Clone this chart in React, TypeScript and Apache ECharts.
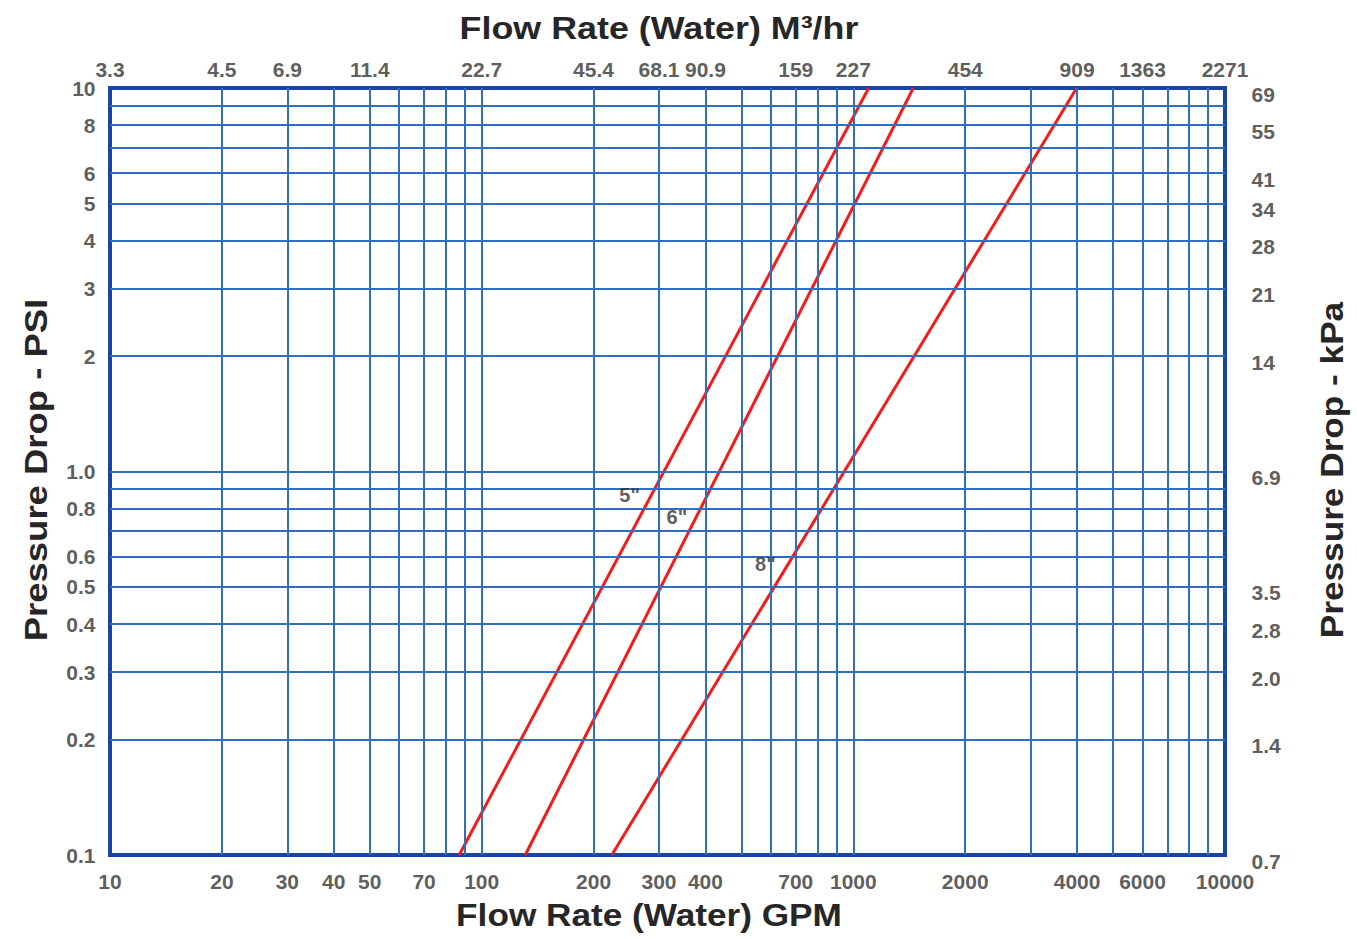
import React, { useEffect, useRef } from "react";
import * as echarts from "echarts";

// ---- data ----
const gpmTicks = [10, 20, 30, 40, 50, 70, 100, 200, 300, 400, 700, 1000, 2000, 4000, 6000, 10000];
const m3Ticks = [10, 20, 30, 50, 100, 200, 300, 400, 700, 1000, 2000, 4000, 6000, 10000];
const m3Labels = ["3.3", "4.5", "6.9", "11.4", "22.7", "45.4", "68.1", "90.9", "159", "227", "454", "909", "1363", "2271"];
const psiTicks = [0.1, 0.2, 0.3, 0.4, 0.5, 0.6, 0.8, 1, 2, 3, 4, 5, 6, 8, 10];
const psiLabels = ["0.1", "0.2", "0.3", "0.4", "0.5", "0.6", "0.8", "1.0", "2", "3", "4", "5", "6", "8", "10"];
const kpaTicks = [0.1, 0.2, 0.3, 0.4, 0.5, 1, 2, 3, 4, 5, 6, 8, 10];
const kpaLabels = ["0.7", "1.4", "2.0", "2.8", "3.5", "6.9", "14", "21", "28", "34", "41", "55", "69"];
const vGrid = [20, 30, 40, 50, 60, 70, 80, 90, 100, 200, 300, 400, 500, 600, 700, 800, 900, 1000, 2000, 3000, 4000, 5000, 6000, 7000, 8000, 9000];
const hGrid = [0.2, 0.3, 0.4, 0.5, 0.6, 0.7, 0.8, 0.9, 1, 2, 3, 4, 5, 6, 7, 8, 9];
const pipe5 = [[87, 0.1], [1100, 10]];
const pipe6 = [[131, 0.1], [1450, 10]];
const pipe8 = [[224, 0.1], [3990, 10]];
const pipeLabels = [
  { name: '5"', value: [250, 0.866] },
  { name: '6"', value: [335, 0.759] },
  { name: '8"', value: [580, 0.575] },
];

const FONT = "'Liberation Sans', Arial, sans-serif";
const TXT = "#262626";
const GRID = "#2f6fc2";
const RED = "#f21c1c";

export default function App() {
  const ref = useRef<HTMLDivElement>(null);
  useEffect(() => {
    if (!ref.current) return;
    const chart = echarts.init(ref.current, null, { renderer: "svg" });
    const lbl = (pos: string, dist: number, extra: any = {}) => ({
      show: true,
      position: pos,
      distance: dist,
      formatter: (p: any) => p.name,
      color: "#333",
      fontSize: 21,
      fontWeight: "bold",
      fontFamily: FONT,
      ...extra,
    });
    const labelSeries = (data: any[], label: any) => ({
      type: "scatter",
      data,
      symbolSize: 1,
      itemStyle: { color: "transparent" },
      label,
      clip: false,
      silent: true,
      z: 5,
    });
    const title = (text: string, x: number, y: number, rot: number, sx: number) => ({
      type: "text",
      x,
      y,
      rotation: rot,
      scaleX: sx,
      scaleY: 1,
      style: {
        text,
        fontSize: 32,
        fontWeight: "bold",
        fontFamily: FONT,
        fill: TXT,
        align: "center",
        verticalAlign: "middle",
      },
    });
    const option: any = {
      animation: false,
      grid: {
        left: 110,
        right: 132,
        top: 88,
        bottom: 84,
        show: true,
        borderColor: "#1744a6",
        borderWidth: 4,
        backgroundColor: "#fff",
      },
      xAxis: {
        type: "log",
        logBase: 10,
        min: 10,
        max: 10000,
        axisLine: { show: false },
        axisTick: { show: false },
        axisLabel: { show: false },
        splitLine: { show: false },
      },
      yAxis: {
        type: "log",
        logBase: 10,
        min: 0.1,
        max: 10,
        axisLine: { show: false },
        axisTick: { show: false },
        axisLabel: { show: false },
        splitLine: { show: false },
      },
      series: [
        {
          type: "line",
          data: [],
          silent: true,
          z: 1,
          markLine: {
            silent: true,
            symbol: ["none", "none"],
            label: { show: false },
            lineStyle: { color: GRID, width: 2, type: "solid", opacity: 1 },
            data: [
              ...vGrid.map((v) => ({ xAxis: v })),
              ...hGrid.map((v) => ({ yAxis: v })),
            ],
          },
        },
        {
          type: "line",
          data: pipe5,
          showSymbol: false,
          lineStyle: { color: RED, width: 3 },
          z: 3,
        },
        {
          type: "line",
          data: pipe6,
          showSymbol: false,
          lineStyle: { color: RED, width: 3 },
          z: 3,
        },
        {
          type: "line",
          data: pipe8,
          showSymbol: false,
          lineStyle: { color: RED, width: 3 },
          z: 3,
        },
        labelSeries(
          gpmTicks.map((v) => ({ name: String(v), value: [v, 0.1] })),
          lbl("bottom", 15)
        ),
        labelSeries(
          m3Ticks.map((v, i) => ({ name: m3Labels[i], value: [v, 10] })),
          lbl("top", 8)
        ),
        labelSeries(
          psiTicks.map((v, i) => ({ name: psiLabels[i], value: [10, v] })),
          lbl("left", 14)
        ),
        labelSeries(
          kpaTicks.map((v, i) => ({ name: kpaLabels[i], value: [10000, v] })),
          lbl("right", 26, { offset: [0, 6] })
        ),
        labelSeries(pipeLabels, lbl("inside", 0, { fontSize: 20 })),
      ],
      graphic: [
        title("Flow Rate (Water) M³/hr", 659, 28, 0, 1.12),
        title("Flow Rate (Water) GPM", 649, 915, 0, 1.1),
        title("Pressure Drop - PSI", 36, 470, Math.PI / 2, 1.14),
        title("Pressure Drop - kPa", 1332, 470, Math.PI / 2, 1.1),
      ],
    };
    chart.setOption(option);
    return () => chart.dispose();
  }, []);
  return (
    <div
      ref={ref}
      style={{ position: "fixed", left: 0, top: 0, width: 1357, height: 939, background: "#fff" }}
    />
  );
}
